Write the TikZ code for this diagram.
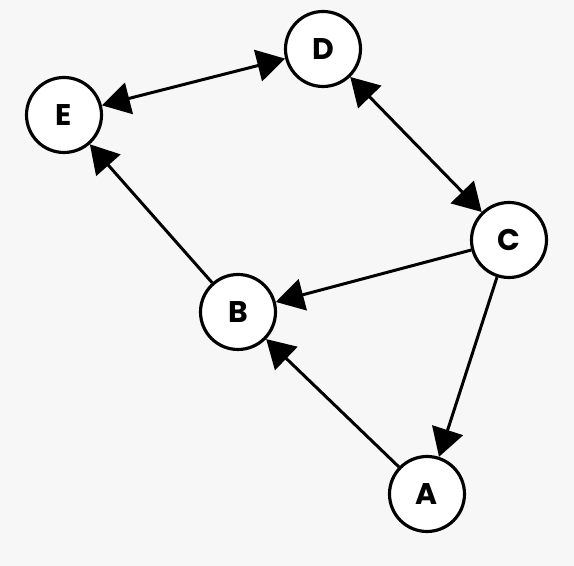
\documentclass[tikz,border=0pt]{standalone}
\usepackage{fontspec}
\setmainfont{Poppins}
\usetikzlibrary{arrows.meta}
\definecolor{bgGray}{RGB}{247, 247, 247}

\begin{document}
\begin{tikzpicture}[
    font=\bfseries\fontsize{17}{20}\selectfont,
    >={Triangle[length=0.56cm, width=0.64cm]},
    vertex/.style={
        circle,
        draw=black,
        fill=white,
        line width=1.8pt,
        minimum size=1.5cm,
        inner sep=0pt
    },
    edge/.style={->, line width=1.7pt, color=black}
]

% background
\fill[bgGray] (0, 0) rectangle (11.48, 11.32);
\useasboundingbox (0, 0) rectangle (11.48, 11.32);

% vertices
\node[vertex] (D) at (6.46, 10.34) {D};
\node[vertex] (E) at (1.28, 9.02) {E};
\node[vertex] (C) at (10.18, 6.52) {C};
\node[vertex] (B) at (4.76, 5.08) {B};
\node[vertex] (A) at (8.54, 1.44) {A};

% edges
\draw[edge, <->] (E) -- (D);
\draw[edge, <->] (D) -- (C);
\draw[edge] (B) -- (E);
\draw[edge] (C) -- (B);
\draw[edge] (C) -- (A);
\draw[edge] (A) -- (B);

\end{tikzpicture}
\end{document}
